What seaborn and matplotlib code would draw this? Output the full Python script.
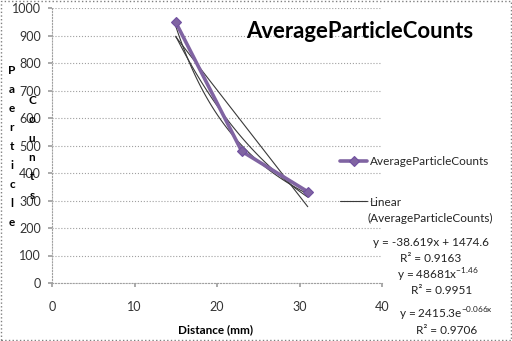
import numpy as np
import pandas as pd
import matplotlib
matplotlib.use("Agg")
import matplotlib.pyplot as plt
from matplotlib.patches import Rectangle
import seaborn as sns

# data
distance = [15, 23, 31]
counts = [948, 479, 332]
series_name = "AverageParticleCounts"

# trendline coefficients as printed on the chart
lin_a, lin_b = -38.619, 1474.6
pow_a, pow_b = 48681, -1.46
exp_a, exp_b = 2415.3, -0.066

x_ticks = [0, 10, 20, 30, 40]
y_ticks = [0, 100, 200, 300, 400, 500, 600, 700, 800, 900, 1000]

sns.set_theme(style="white")
plt.rcParams['font.family'] = ['Lato', 'DejaVu Sans']

fig = plt.figure(figsize=(5.12, 3.41), dpi=100)
ax = fig.add_axes([52/512, 1-283/341, 330/512, 275/341])

df = pd.DataFrame({"Distance": distance, "Counts": counts})

# trendlines (drawn over the fitted data range, like excel)
xs = np.linspace(min(distance), max(distance), 100)
trend_kw = dict(color='#3a3a3a', lw=0.8, zorder=3)
ax.plot(xs, lin_a*xs + lin_b, **trend_kw, label="Linear")
ax.plot(xs, pow_a*xs**pow_b, **trend_kw)
ax.plot(xs, exp_a*np.exp(exp_b*xs), **trend_kw)

sns.lineplot(data=df, x="Distance", y="Counts", ax=ax, color='#8064A2', lw=2.6,
             marker='D', markersize=5.5, markeredgecolor='#7050a0', markeredgewidth=0.8,
             label=series_name, zorder=4, legend=False)

ax.set_xlim(0, 40)
ax.set_ylim(0, 1000)
ax.set_xticks(x_ticks)
ax.set_yticks(y_ticks)
ax.set_xlabel("")
ax.set_ylabel("")
ax.grid(axis='y', color='#a0a0a0', ls=':', lw=0.8)
for s in ['top', 'right']:
    ax.spines[s].set_visible(False)
for s in ['left', 'bottom']:
    ax.spines[s].set_color('#a0a0a0')
    ax.spines[s].set_linestyle(':')
    ax.spines[s].set_linewidth(0.8)
ax.tick_params(axis='y', left=True, length=3, color='#a0a0a0', pad=5, labelsize=9, labelcolor='#333333')
ax.tick_params(axis='x', bottom=True, length=3, color='#a0a0a0', pad=10, labelsize=9, labelcolor='#333333')

# title
fig.text(360/512, 1-31/341, "AverageParticleCounts", ha='center', va='center',
         fontsize=15.9, fontweight='bold', color='black')

# stacked axis label letters (as they appear in the original)
fig.text(12/512, 1-65/341, "\n".join("Paerticle"), ha='center', va='top',
         fontsize=8.5, fontweight='bold', linespacing=1.89, color='black')
fig.text(32/512, 1-95/341, "\n".join("Counts"), ha='center', va='top',
         fontsize=8.5, fontweight='bold', linespacing=1.89, color='black')

fig.text(216/512, 1-330/341, "Distance (mm)", ha='center', va='center',
         fontsize=8.5, fontweight='bold', color='black')

# legend
h, l = ax.get_legend_handles_labels()
order = [l.index(series_name), l.index("Linear")]
leg = fig.legend([h[i] for i in order], [l[i] for i in order], loc='upper left',
                 bbox_to_anchor=(340/512, 1-156/341), bbox_transform=fig.transFigure,
                 frameon=False, borderpad=0, borderaxespad=0, handlelength=2.3,
                 handletextpad=0.2, labelspacing=2.5, fontsize=8.5)
fig.text(368/512, 1-218/341, "(AverageParticleCounts)", ha='left', va='center',
         fontsize=8.5, color='#222222')

# equations
eqs = [
    (431, 242, "y = -38.619x + 1474.6"),
    (431, 258, "R² = 0.9163"),
    (438, 275, r"y = 48681x$^{\mathregular{-1.46}}$"),
    (442, 291, "R² = 0.9951"),
    (446, 314, r"y = 2415.3e$^{\mathregular{-0.066x}}$"),
    (447, 330, "R² = 0.9706"),
]
for xx, yy, t in eqs:
    fig.text(xx/512, 1-yy/341, t, ha='center', va='center', fontsize=8.5, color='#222222')

# outer chart border
fig.add_artist(Rectangle((0.002, 0.003), 0.996, 0.994, transform=fig.transFigure,
                         fill=False, edgecolor='#808080', ls=':', lw=1))

fig.savefig("out.png", dpi=100)
